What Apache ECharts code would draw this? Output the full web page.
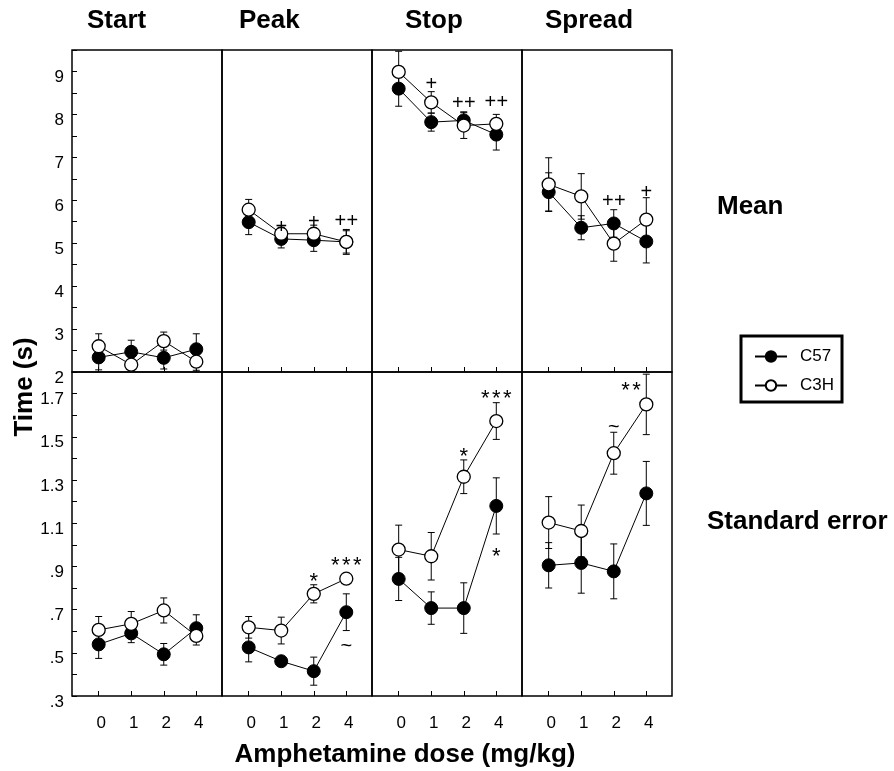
<!DOCTYPE html>
<html>
<head>
<meta charset="utf-8">
<script src="https://cdn.jsdelivr.net/npm/echarts@6/dist/echarts.min.js"></script>
<style>
  html, body { margin: 0; padding: 0; background: #fff; }
  #main { width: 894px; height: 771px; }
</style>
</head>
<body>
<div id="main"></div>
<script>
// dose groups and panels
const doses = ['0', '1', '2', '4'];
const panels = ['Start', 'Peak', 'Stop', 'Spread'];

// Mean (s), one row per panel, columns = dose
const meanC57 = [
  [2.34, 2.47, 2.33, 2.53],
  [5.49, 5.10, 5.07, 5.03],
  [8.60, 7.82, 7.86, 7.53],
  [6.19, 5.36, 5.46, 5.04]
];
const meanC57Err = [
  [0.29, 0.27, 0.26, 0.36],
  [0.29, 0.21, 0.26, 0.26],
  [0.41, 0.21, 0.20, 0.36],
  [0.45, 0.28, 0.32, 0.50]
];
const meanC3H = [
  [2.60, 2.17, 2.72, 2.24],
  [5.78, 5.22, 5.22, 5.03],
  [8.99, 8.28, 7.74, 7.78],
  [6.37, 6.09, 4.99, 5.55]
];
const meanC3HErr = [
  [0.29, 0.20, 0.21, 0.20],
  [0.24, 0.15, 0.20, 0.29],
  [0.48, 0.25, 0.30, 0.22],
  [0.62, 0.53, 0.41, 0.51]
];

// Standard error (s)
const seC57 = [
  [0.539, 0.590, 0.493, 0.614],
  [0.525, 0.461, 0.415, 0.688],
  [0.842, 0.707, 0.707, 1.180],
  [0.905, 0.916, 0.877, 1.238]
];
const seC57Err = [
  [0.065, 0.043, 0.050, 0.062],
  [0.067, 0.015, 0.065, 0.085],
  [0.100, 0.075, 0.117, 0.130],
  [0.105, 0.140, 0.127, 0.148]
];
const seC3H = [
  [0.606, 0.634, 0.696, 0.578],
  [0.618, 0.603, 0.773, 0.843],
  [0.978, 0.947, 1.315, 1.573],
  [1.103, 1.064, 1.424, 1.650]
];
const seC3HErr = [
  [0.062, 0.057, 0.058, 0.042],
  [0.050, 0.062, 0.042, 0.020],
  [0.113, 0.110, 0.078, 0.085],
  [0.120, 0.120, 0.097, 0.140]
];

// significance marks: [panel, dose index, y, text]
const meanMarks = [
  [1, 1, 5.37, '+'], [1, 2, 5.49, '+'], [1, 3, 5.51, '++'],
  [2, 1, 8.70, '+'], [2, 2, 8.25, '++'], [2, 3, 8.27, '++'],
  [3, 2, 5.96, '++'], [3, 3, 6.19, '+']
];
const seMarks = [
  [1, 2, 0.83, '*'], [1, 3, 0.90, '***'], [1, 3, 0.528, '~'],
  [2, 2, 1.405, '*'], [2, 3, 1.675, '***'], [2, 3, 0.946, '*'],
  [3, 2, 1.545, '~'], [3, 2.53, 1.711, '**']
];

// axis ticks
const meanTicks = [2, 3, 4, 5, 6, 7, 8, 9];
const meanTickLabels = ['2', '3', '4', '5', '6', '7', '8', '9'];
const meanMinor = [2, 2.5, 3, 3.5, 4, 4.5, 5, 5.5, 6, 6.5, 7, 7.5, 8, 8.5, 9, 9.5];
const seTicks = [0.3, 0.5, 0.7, 0.9, 1.1, 1.3, 1.5, 1.7];
const seTickLabels = ['.3', '.5', '.7', '.9', '1.1', '1.3', '1.5', '1.7'];
const seMinor = [0.3, 0.4, 0.5, 0.6, 0.7, 0.8, 0.9, 1.0, 1.1, 1.2, 1.3, 1.4, 1.5, 1.6, 1.7, 1.8];

const FONT = '"Liberation Sans", Arial, Helvetica, sans-serif';

const rows = [
  { c57: meanC57, c57e: meanC57Err, c3h: meanC3H, c3he: meanC3HErr, min: 2, max: 9.5,
    ticks: meanTicks, labels: meanTickLabels, minor: meanMinor, marks: meanMarks, top: 50, height: 322 },
  { c57: seC57, c57e: seC57Err, c3h: seC3H, c3he: seC3HErr, min: 0.3, max: 1.8,
    ticks: seTicks, labels: seTickLabels, minor: seMinor, marks: seMarks, top: 372, height: 324 }
];

const grids = [], xAxes = [], yAxes = [], series = [];

function errBars(g, vals, errs) {
  return {
    type: 'custom', xAxisIndex: g, yAxisIndex: g, z: 2, clip: true, silent: true,
    data: vals.map((v, i) => [i, v, errs[i]]),
    renderItem: function (params, api) {
      const x = api.value(0), y = api.value(1), e = api.value(2);
      const hi = api.coord([x, y + e]), lo = api.coord([x, y - e]);
      const st = { stroke: '#000', lineWidth: 1 };
      return {
        type: 'group',
        children: [
          { type: 'line', shape: { x1: hi[0], y1: hi[1], x2: lo[0], y2: lo[1] }, style: st },
          { type: 'line', shape: { x1: hi[0] - 3.5, y1: hi[1], x2: hi[0] + 3.5, y2: hi[1] }, style: st },
          { type: 'line', shape: { x1: lo[0] - 3.5, y1: lo[1], x2: lo[0] + 3.5, y2: lo[1] }, style: st }
        ]
      };
    }
  };
}

// each mark character is laid out on its own pitch, like the spaced glyphs of the original
function markText(txt, x, y) {
  const chars = txt.split('');
  const pitch = txt[0] === '*' ? 11 : 12;
  const size = txt[0] === '*' ? 22 : 20;
  return {
    type: 'group',
    children: chars.map((c, i) => ({
      type: 'text', x: x + (i - (chars.length - 1) / 2) * pitch, y: y,
      style: { text: c, fill: '#000', font: size + 'px ' + FONT, align: 'center', verticalAlign: 'middle' }
    }))
  };
}

rows.forEach((row, r) => {
  panels.forEach((name, p) => {
    const g = r * 4 + p;
    grids.push({
      left: 72 + p * 150, top: row.top, width: 150, height: row.height,
      show: true, borderColor: '#000', borderWidth: 1.5, backgroundColor: 'transparent'
    });
    xAxes.push({
      type: 'value', gridIndex: g, min: -0.82, max: 3.79,
      axisLine: { show: false, onZero: false }, splitLine: { show: false },
      axisTick: { show: true, inside: true, length: 5, customValues: [0, 1, 2, 3],
        lineStyle: { color: '#000', width: 1 } },
      axisLabel: { show: r === 1, customValues: [0, 1, 2, 3], formatter: v => doses[v],
        color: '#000', fontSize: 17, margin: 19, fontFamily: FONT, padding: [0, 0, 0, 5] }
    });
    yAxes.push({
      type: 'value', gridIndex: g, min: row.min, max: row.max,
      axisLine: { show: false, onZero: false }, splitLine: { show: false },
      axisTick: { show: p === 0, inside: true, length: 5, customValues: row.minor,
        lineStyle: { color: '#000', width: 1 } },
      axisLabel: { show: p === 0, customValues: row.ticks,
        formatter: v => row.labels[row.ticks.findIndex(t => Math.abs(t - v) < 1e-6)],
        color: '#000', fontSize: 17, margin: 8, fontFamily: FONT,
        verticalAlign: 'top', lineHeight: 12 }
    });

    series.push(errBars(g, row.c57[p], row.c57e[p]));
    series.push(errBars(g, row.c3h[p], row.c3he[p]));
    series.push({
      name: 'C57', type: 'line', xAxisIndex: g, yAxisIndex: g, z: 3,
      data: row.c57[p].map((v, i) => [i, v]),
      symbol: 'circle', symbolSize: 13,
      lineStyle: { color: '#000', width: 1 },
      itemStyle: { color: '#000', borderColor: '#000', borderWidth: 1 }
    });
    series.push({
      name: 'C3H', type: 'line', xAxisIndex: g, yAxisIndex: g, z: 4,
      data: row.c3h[p].map((v, i) => [i, v]),
      symbol: 'circle', symbolSize: 13,
      lineStyle: { color: '#000', width: 1 },
      itemStyle: { color: '#fff', borderColor: '#000', borderWidth: 1.3 }
    });
    const marks = row.marks.filter(m => m[0] === p);
    if (marks.length) {
      series.push({
        type: 'custom', xAxisIndex: g, yAxisIndex: g, z: 5, silent: true,
        data: marks.map(m => [m[1], m[2]]),
        renderItem: function (params, api) {
          const pt = api.coord([api.value(0), api.value(1)]);
          return markText(marks[params.dataIndex][3], pt[0], pt[1]);
        }
      });
    }
  });
});

const textEls = [];
const titleX = [87, 239, 405, 545];
panels.forEach((name, p) => {
  textEls.push({ type: 'text', x: titleX[p], y: 21,
    style: { text: name, font: 'bold 26px ' + FONT, fill: '#000', verticalAlign: 'middle' } });
});
textEls.push({ type: 'text', x: 717, y: 207,
  style: { text: 'Mean', font: 'bold 26px ' + FONT, fill: '#000', verticalAlign: 'middle' } });
textEls.push({ type: 'text', x: 707, y: 522,
  style: { text: 'Standard error', font: 'bold 26px ' + FONT, fill: '#000', verticalAlign: 'middle' } });
textEls.push({ type: 'text', x: 25, y: 387, rotation: Math.PI / 2,
  style: { text: 'Time (s)', font: 'bold 26px ' + FONT, fill: '#000', align: 'center', verticalAlign: 'middle' } });
textEls.push({ type: 'text', x: 405, y: 755,
  style: { text: 'Amphetamine dose (mg/kg)', font: 'bold 26px ' + FONT, fill: '#000', align: 'center', verticalAlign: 'middle' } });

const chart = echarts.init(document.getElementById('main'), null, { renderer: 'canvas' });
chart.setOption({
  animation: false,
  backgroundColor: '#fff',
  textStyle: { fontFamily: FONT, color: '#000' },
  grid: grids,
  xAxis: xAxes,
  yAxis: yAxes,
  legend: {
    data: ['C57', 'C3H'], orient: 'vertical', left: 741, top: 336,
    selectedMode: false, borderColor: '#000', borderWidth: 3,
    padding: [12, 8, 8, 13], itemWidth: 32, itemHeight: 13, itemGap: 12,
    textStyle: { fontSize: 17, color: '#000', fontFamily: FONT, padding: [0, 0, 0, 8] }
  },
  graphic: textEls,
  series: series
});
</script>
</body>
</html>
